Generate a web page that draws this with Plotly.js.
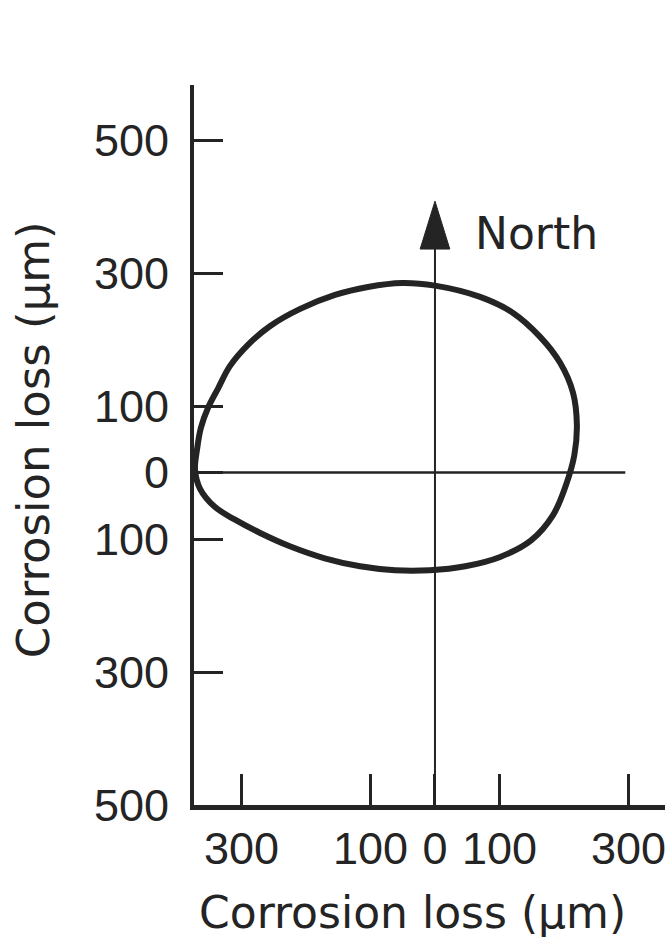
<!DOCTYPE html>
<html>
<head>
<meta charset="utf-8">
<script src="https://cdn.plot.ly/plotly-3.0.1.min.js"></script>
<style>html,body{margin:0;padding:0;background:#fff;}#chart{width:665px;height:941px;}</style>
</head>
<body>
<div id="chart"></div>
<script>
// ---- data ----
// Corrosion loss towards East (+) / West (-), micrometres (clockwise from North)
const lossEast = [0, 70, 121, 163, 194, 214, 220, 216, 203, 183, 149, 101, 47, -8,
  -62, -116, -171, -225, -271, -310, -341, -364, -372, -369, -363, -352, -336, -318,
  -290, -256, -209, -155, -104, -51, 0];
// Corrosion loss towards North (+) / South (-), micrometres
const lossNorth = [281, 264, 240, 204, 165, 120, 71, 26, -19, -64, -102, -127, -141, -147,
  -147, -141, -129, -111, -91, -71, -52, -25, 4, 34, 67, 97, 127, 160,
  192, 220, 246, 267, 279, 285, 281];

const xTickVals = [-300, -100, 0, 100, 300];
const xTickText = ['300', '100', '0', '100', '300'];
const yTickVals = [500, 300, 100, 0, -100, -300, -500];
const yTickText = ['500', '300', '100', '0', '100', '300', '500'];

const xTitle = 'Corrosion loss (\u03bcm)';
const yTitle = 'Corrosion loss (\u03bcm)';
const northLabel = 'North';

// ---- layout / decoration constants ----
const xRange = [-373.6, 356.6];
const yRange = [-500, 582.7];
const crossRight = 295;
const arrowBase = 336;
const arrowTip = 408;
const arrowHalf = 23;
const ink = '#242424';
const textFont = 'DejaVu Sans, sans-serif';
const digitFont = 'Liberation Sans, Arial, sans-serif';

const trace = {
  x: lossEast,
  y: lossNorth,
  mode: 'lines',
  type: 'scatter',
  line: {color: ink, width: 6, shape: 'spline', smoothing: 1},
  hoverinfo: 'skip',
  showlegend: false
};

const layout = {
  width: 665,
  height: 941,
  margin: {l: 194, r: 0, t: 85, b: 136, autoexpand: false},
  paper_bgcolor: '#ffffff',
  plot_bgcolor: '#ffffff',
  font: {family: textFont, color: ink, size: 40},
  showlegend: false,
  xaxis: {
    range: xRange,
    tickmode: 'array',
    tickvals: xTickVals,
    ticktext: xTickText,
    ticks: 'inside',
    ticklen: 31,
    tickwidth: 3,
    tickcolor: ink,
    showline: true,
    linecolor: ink,
    linewidth: 4.5,
    showgrid: false,
    zeroline: false,
    ticklabelstandoff: 0,
    ticklabeloverflow: 'allow',
    tickfont: {family: digitFont, size: 45, color: ink},
    automargin: false
  },
  yaxis: {
    range: yRange,
    tickmode: 'array',
    tickvals: yTickVals,
    ticktext: yTickText,
    ticks: 'inside',
    ticklen: 29,
    tickwidth: 3,
    tickcolor: ink,
    showline: true,
    linecolor: ink,
    linewidth: 4,
    showgrid: false,
    zeroline: false,
    ticklabelstandoff: 12,
    tickfont: {family: digitFont, size: 45, color: ink},
    automargin: false
  },
  shapes: [
    {type: 'line', xref: 'x', yref: 'y', x0: xRange[0], x1: crossRight, y0: 0, y1: 0,
     line: {color: ink, width: 2.5}},
    {type: 'line', xref: 'x', yref: 'y', x0: 0, x1: 0, y0: yRange[0], y1: arrowBase,
     line: {color: ink, width: 2}},
    {type: 'path', xref: 'x', yref: 'y',
     path: 'M ' + (-arrowHalf) + ',' + arrowBase + ' L 0,' + arrowTip + ' L ' + arrowHalf + ',' + arrowBase + ' Z',
     fillcolor: ink, line: {color: ink, width: 1}}
  ],
  annotations: [
    {xref: 'x', yref: 'y', x: 59, y: 359.5, text: northLabel, showarrow: false,
     xanchor: 'left', yanchor: 'middle', font: {family: textFont, size: 44, color: ink}},
    {xref: 'paper', yref: 'paper', x: 0.463, y: -0.15, text: xTitle, showarrow: false,
     xanchor: 'center', yanchor: 'middle', font: {family: textFont, size: 44, color: ink}},
    {xref: 'paper', yref: 'paper', x: -0.342, y: 0.508, text: yTitle, showarrow: false, textangle: -90,
     xanchor: 'center', yanchor: 'middle', font: {family: textFont, size: 45, color: ink}}
  ]
};

Plotly.newPlot('chart', [trace], layout, {staticPlot: true, displayModeBar: false});
</script>
</body>
</html>
